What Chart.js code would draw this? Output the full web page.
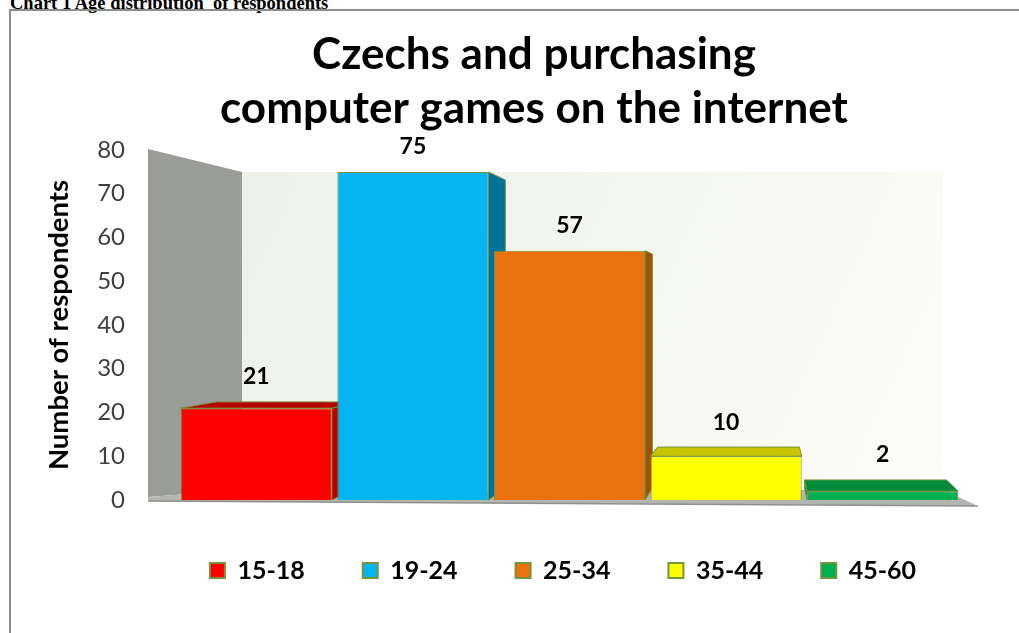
<!DOCTYPE html>
<html>
<head>
<meta charset="utf-8">
<script src="https://cdn.jsdelivr.net/npm/chart.js@4.4.1/dist/chart.umd.min.js"></script>
<style>
  html, body { margin: 0; padding: 0; background: #ffffff; overflow: hidden; }
  body { width: 1019px; height: 633px; position: relative; }
  #caption { position: absolute; left: 10px; top: -6.5px; font-family: "Liberation Serif", "Times New Roman", serif; font-weight: bold; font-size: 18.5px; line-height: 18.5px; white-space: pre; color: #000; }
  #frame { position: absolute; left: 9px; top: 9px; width: 1040px; height: 700px; border: 2px solid #8c8c8c; box-sizing: border-box; }
  #chart { position: absolute; left: 0; top: 0; }
</style>
</head>
<body>
<div id="caption">Chart 1 Age distribution  of respondents</div>
<div id="frame"></div>
<canvas id="chart" width="1019" height="633"></canvas>
<script>
// ---- data ----
const categories = ['15-18', '19-24', '25-34', '35-44', '45-60'];
const respondents = [21, 75, 57, 10, 2];
const titleLines = ['Czechs and purchasing', 'computer games on the internet'];
const yAxisTitle = 'Number of respondents';
const yMin = 0, yMax = 80, yStep = 10;

// ---- styles ----
const barColors = ['#ff0000', '#06b4f1', '#e9720f', '#ffff00', '#00b050'];
const shadeColors = ['#b80000', '#00729c', '#a24f07', '#c9c400', '#008a3c'];
const edgeColor = '#77933c';
const FONT = 'Lato, "Open Sans", sans-serif';

const decorPlugin = {
  id: 'decor3d',
  afterLayout(chart) {
    const t = chart.titleBlock, l = chart.legend;
    if (t) { t.left += 33; t.right += 33; }
    if (l) { l.left += 62; l.right += 62; }
  },
  beforeDatasetsDraw(chart) {
    const ctx = chart.ctx, ca = chart.chartArea, ys = chart.scales.y;
    const yT = ys.getPixelForValue(yMax), y0 = ys.getPixelForValue(yMin);
    const xF = ca.left - 30, xB = ca.left + 64, xR = ca.right - 18;
    const yBT = yT + 22, yBB = y0 - 10;
    ctx.save();
    const g = ctx.createLinearGradient(xB, yBT, xR, yBB);
    g.addColorStop(0, '#edf1e8');
    g.addColorStop(1, '#fbfdf6');
    ctx.fillStyle = g;
    ctx.fillRect(xB, yBT, xR - xB, yBB - yBT);
    ctx.fillStyle = '#9a9c97';
    ctx.beginPath();
    ctx.moveTo(xF, yT - 1); ctx.lineTo(xB, yBT); ctx.lineTo(xB, yBB); ctx.lineTo(xF, y0 - 3);
    ctx.closePath(); ctx.fill();
    ctx.fillStyle = '#b3b6b0';
    ctx.beginPath();
    ctx.moveTo(xF, y0 - 3); ctx.lineTo(xB, yBB); ctx.lineTo(xR, yBB);
    ctx.lineTo(ca.right + 17, y0 + 6); ctx.lineTo(xF, y0 + 1);
    ctx.closePath(); ctx.fill();
    ctx.strokeStyle = '#8e908b'; ctx.lineWidth = 1.5;
    ctx.beginPath(); ctx.moveTo(xF, y0 + 1); ctx.lineTo(ca.right + 17, y0 + 6); ctx.stroke();

    const vx = ca.left + 587, vy = ca.top + 156, k = 0.061;
    const back = (x, y) => [x + k * (vx - x), y + k * (vy - y)];
    const meta = chart.getDatasetMeta(0);
    meta.data.forEach((el, i) => {
      const p = el.getProps(['x', 'y', 'base', 'width'], true);
      const x1 = p.x - p.width / 2, x2 = p.x + p.width / 2, t = p.y, b = p.base;
      ctx.fillStyle = shadeColors[i];
      ctx.strokeStyle = edgeColor; ctx.lineWidth = 1;
      const poly = (pts) => {
        ctx.beginPath(); ctx.moveTo(pts[0][0], pts[0][1]);
        for (let j = 1; j < pts.length; j++) ctx.lineTo(pts[j][0], pts[j][1]);
        ctx.closePath(); ctx.fill(); ctx.stroke();
      };
      if (x2 < vx) poly([[x2, t], back(x2, t), back(x2, b), [x2, b]]);
      if (x1 > vx) poly([[x1, t], back(x1, t), back(x1, b), [x1, b]]);
      if (t > vy) poly([[x1, t], back(x1, t), back(x2, t), [x2, t]]);
    });
    ctx.restore();
  },
  afterDatasetsDraw(chart) {
    const ctx = chart.ctx, ca = chart.chartArea;
    const vy = ca.top + 156, k = 0.061;
    const meta = chart.getDatasetMeta(0);
    ctx.save();
    ctx.font = 'bold 23px ' + FONT;
    ctx.fillStyle = '#000';
    ctx.textAlign = 'center';
    ctx.textBaseline = 'middle';
    meta.data.forEach((el, i) => {
      const p = el.getProps(['x', 'y'], true);
      const yBack = p.y + k * (vy - p.y);
      ctx.fillText(String(respondents[i]), p.x, Math.min(p.y, yBack) - 25);
    });
    ctx.restore();
  }
};

new Chart(document.getElementById('chart'), {
  type: 'bar',
  data: {
    labels: categories,
    datasets: [{
      data: respondents,
      backgroundColor: barColors,
      borderColor: edgeColor,
      borderWidth: 1,
      barPercentage: 0.965,
      categoryPercentage: 1
    }]
  },
  options: {
    responsive: false,
    animation: false,
    devicePixelRatio: 1,
    layout: { padding: { left: 41, right: 58, top: 9, bottom: 40 } },
    plugins: {
      title: {
        display: true,
        text: titleLines,
        color: '#000',
        font: { family: FONT, size: 44, weight: 'bold', lineHeight: 54 / 44 },
        padding: { top: 19, bottom: 14 }
      },
      legend: {
        position: 'bottom',
        labels: {
          boxWidth: 15,
          boxHeight: 15,
          padding: 58,
          color: '#000',
          font: { family: FONT, size: 25, weight: 'bold' },
          generateLabels: () => categories.map((c, i) => ({
            text: c, fillStyle: barColors[i], strokeStyle: edgeColor,
            lineWidth: 2, hidden: false, index: i, fontColor: '#000'
          }))
        }
      },
      tooltip: { enabled: false }
    },
    scales: {
      x: { display: false },
      y: {
        min: yMin, max: yMax,
        ticks: { stepSize: yStep, padding: 53, color: '#404040', font: { family: FONT, size: 24 } },
        grid: { display: false, drawTicks: false },
        border: { display: false },
        title: {
          display: true, text: yAxisTitle, color: '#000',
          font: { family: FONT, size: 27.5, weight: 'bold' },
          padding: { top: 2, bottom: 0 }
        },
        afterFit(scale) { scale.width = 137; }
      }
    }
  },
  plugins: [decorPlugin]
});
</script>
</body>
</html>
